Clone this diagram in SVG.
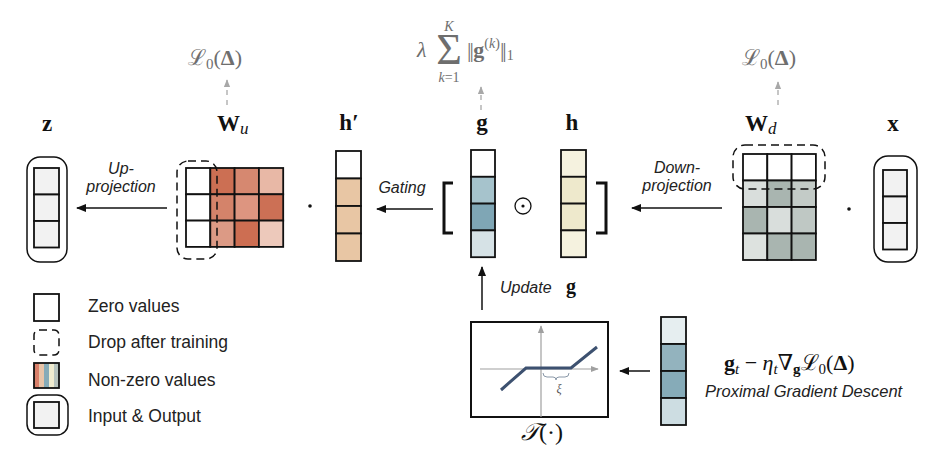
<svg xmlns="http://www.w3.org/2000/svg" width="926" height="457" viewBox="0 0 926 457">
<defs>
<style>
.cell{stroke:#111;stroke-width:1.8}
.io{fill:#f2f2f2;stroke:#111;stroke-width:1.8}
.outer{fill:none;stroke:#111;stroke-width:1.5}
.drop{fill:none;stroke:#111;stroke-width:1.5;stroke-dasharray:8,5}
.conn{stroke:#111;stroke-width:1.5;fill:none}
.gray{stroke:#a8a8a8;stroke-width:1.3;fill:none;stroke-dasharray:5,5}
.lab{font-family:"Liberation Serif","DejaVu Serif",serif;font-weight:bold;font-size:23px;fill:#111}
.it{font-family:"Liberation Sans",Arial,sans-serif;font-style:italic;font-size:16px;fill:#222}
.leg{font-family:"Liberation Sans",Arial,sans-serif;font-size:17.5px;fill:#222}
.fm{font-family:"Liberation Serif","DejaVu Serif",serif;font-size:22px;fill:#6e6e6e}
.fb{font-family:"Liberation Serif","DejaVu Serif",serif;font-size:22px;fill:#111}
</style>
<marker id="ah" viewBox="0 0 10 10" refX="9" refY="5" markerWidth="10" markerHeight="10" markerUnits="userSpaceOnUse" orient="auto">
<path d="M0,1 L10,5 L0,9 z" fill="#111"/>
</marker>
<marker id="ahg" viewBox="0 0 10 10" refX="9" refY="5" markerWidth="8" markerHeight="8" markerUnits="userSpaceOnUse" orient="auto">
<path d="M0,1 L10,5 L0,9 z" fill="#a8a8a8"/>
</marker>
<marker id="aht" viewBox="0 0 10 10" refX="9" refY="5" markerWidth="8" markerHeight="8" markerUnits="userSpaceOnUse" orient="auto">
<path d="M0,1 L10,5 L0,9 z" fill="#a0a0a0"/>
</marker>
</defs>
<rect width="926" height="457" fill="#fff"/>

<!-- top formulas -->
<g id="loss-u">
<text class="fm" x="188" y="65">ℒ<tspan font-size="15" dy="4">0</tspan><tspan dy="-4">(</tspan><tspan font-weight="bold">Δ</tspan>)</text>
</g>
<g id="loss-g">
<text class="fm" x="417" y="57" font-style="italic">λ</text>
<text x="449" y="64" style="font-family:'Liberation Serif',serif;font-size:44px;fill:#6e6e6e" text-anchor="middle">Σ</text>
<text x="449" y="31" style="font-family:'Liberation Serif',serif;font-size:14px;fill:#6e6e6e;font-style:italic" text-anchor="middle">K</text>
<text x="449" y="82" style="font-family:'Liberation Serif',serif;font-size:14px;fill:#6e6e6e" text-anchor="middle"><tspan font-style="italic">k</tspan>=1</text>
<text class="fm" x="467" y="57"><tspan letter-spacing="-2">||</tspan> <tspan font-weight="bold" dx="-4">g</tspan><tspan font-size="14" dy="-9">(<tspan font-style="italic">k</tspan>)</tspan><tspan dy="9" letter-spacing="-2">||</tspan><tspan font-size="14" dy="3" dx="2">1</tspan></text>
</g>
<g id="loss-d">
<text class="fm" x="742" y="65">ℒ<tspan font-size="15" dy="4">0</tspan><tspan dy="-4">(</tspan><tspan font-weight="bold">Δ</tspan>)</text>
</g>

<!-- labels -->
<g id="labels">
<text class="lab" x="47" y="131" text-anchor="middle">z</text>
<text class="lab" x="217" y="131">W<tspan font-style="italic" font-weight="normal" font-size="17" dy="3">u</tspan></text>
<text class="lab" x="349" y="130" text-anchor="middle">h′</text>
<text class="lab" x="482" y="130" text-anchor="middle">g</text>
<text class="lab" x="572" y="130" text-anchor="middle">h</text>
<text class="lab" x="745" y="131">W<tspan font-style="italic" font-weight="normal" font-size="17" dy="3">d</tspan></text>
<text class="lab" x="893" y="131" text-anchor="middle">x</text>
</g>

<!-- z output -->
<g id="z">
<rect class="outer" x="27" y="157" width="40" height="105" rx="13"/>
<rect class="io" x="34" y="168" width="25" height="26.5"/>
<rect class="io" x="34" y="194.5" width="25" height="26.5"/>
<rect class="io" x="34" y="221" width="25" height="26.5"/>
</g>

<!-- W_u -->
<g id="Wu">
<rect class="cell" x="186" y="168" width="24.3" height="26.3" fill="#fff"/>
<rect class="cell" x="210.3" y="168" width="24.3" height="26.3" fill="#cc6f53"/>
<rect class="cell" x="234.6" y="168" width="24.3" height="26.3" fill="#d68870"/>
<rect class="cell" x="258.9" y="168" width="24.3" height="26.3" fill="#e8b8a6"/>
<rect class="cell" x="186" y="194.3" width="24.3" height="26.3" fill="#fff"/>
<rect class="cell" x="210.3" y="194.3" width="24.3" height="26.3" fill="#d4836a"/>
<rect class="cell" x="234.6" y="194.3" width="24.3" height="26.3" fill="#dd9580"/>
<rect class="cell" x="258.9" y="194.3" width="24.3" height="26.3" fill="#cc7055"/>
<rect class="cell" x="186" y="220.6" width="24.3" height="26.3" fill="#fff"/>
<rect class="cell" x="210.3" y="220.6" width="24.3" height="26.3" fill="#dc9a85"/>
<rect class="cell" x="234.6" y="220.6" width="24.3" height="26.3" fill="#cd6e52"/>
<rect class="cell" x="258.9" y="220.6" width="24.3" height="26.3" fill="#edc9bb"/>
<rect class="drop" x="177" y="161" width="40" height="98" rx="11"/>
</g>
<g id="dot-u"><circle cx="310" cy="206" r="1.8" fill="#111"/></g>

<!-- h' -->
<g id="hprime">
<rect class="cell" x="336" y="151" width="25" height="27.5" fill="#fff"/>
<rect class="cell" x="336" y="178.5" width="25" height="27.5" fill="#e8c6a4"/>
<rect class="cell" x="336" y="206" width="25" height="27.5" fill="#e8c6a4"/>
<rect class="cell" x="336" y="233.5" width="25" height="27.5" fill="#e8c6a4"/>
</g>

<!-- brackets -->
<g id="bracket-l"><path d="M453,183 H444 V233 H453" fill="none" stroke="#111" stroke-width="3"/></g>
<g id="g">
<rect class="cell" x="471" y="150" width="24" height="26.8" fill="#fff"/>
<rect class="cell" x="471" y="176.8" width="24" height="26.8" fill="#a6c3cc"/>
<rect class="cell" x="471" y="203.6" width="24" height="26.8" fill="#7fa6b5"/>
<rect class="cell" x="471" y="230.4" width="24" height="26.8" fill="#d6e2e6"/>
</g>
<g id="odot">
<circle cx="523" cy="206" r="8" fill="none" stroke="#111" stroke-width="1.3"/>
<circle cx="523" cy="206" r="1.6" fill="#111"/>
</g>
<g id="h">
<rect class="cell" x="561" y="150" width="25" height="26.8" fill="#f5f2df"/>
<rect class="cell" x="561" y="176.8" width="25" height="26.8" fill="#eee9cc"/>
<rect class="cell" x="561" y="203.6" width="25" height="26.8" fill="#eee9cc"/>
<rect class="cell" x="561" y="230.4" width="25" height="26.8" fill="#f5f2df"/>
</g>
<g id="bracket-r"><path d="M596,183 H606 V233 H596" fill="none" stroke="#111" stroke-width="3"/></g>

<!-- W_d -->
<g id="Wd">
<rect class="cell" x="743" y="154" width="24.3" height="26.5" fill="#fff"/>
<rect class="cell" x="767.3" y="154" width="24.3" height="26.5" fill="#fff"/>
<rect class="cell" x="791.6" y="154" width="24.3" height="26.5" fill="#fff"/>
<rect class="cell" x="743" y="180.5" width="24.3" height="26.5" fill="#d9dedc"/>
<rect class="cell" x="767.3" y="180.5" width="24.3" height="26.5" fill="#a9b5b0"/>
<rect class="cell" x="791.6" y="180.5" width="24.3" height="26.5" fill="#c3cbc7"/>
<rect class="cell" x="743" y="207" width="24.3" height="26.5" fill="#a9b5b0"/>
<rect class="cell" x="767.3" y="207" width="24.3" height="26.5" fill="#d9dedc"/>
<rect class="cell" x="791.6" y="207" width="24.3" height="26.5" fill="#bfc8c4"/>
<rect class="cell" x="743" y="233.5" width="24.3" height="26.5" fill="#dde2df"/>
<rect class="cell" x="767.3" y="233.5" width="24.3" height="26.5" fill="#a9b5b0"/>
<rect class="cell" x="791.6" y="233.5" width="24.3" height="26.5" fill="#a9b5b0"/>
<rect class="drop" x="733" y="145" width="92" height="44" rx="12"/>
</g>
<g id="dot-d"><circle cx="849" cy="209" r="1.8" fill="#111"/></g>

<!-- x input -->
<g id="x">
<rect class="outer" x="874" y="156" width="43" height="106" rx="14"/>
<rect class="io" x="883" y="170" width="24" height="26.5"/>
<rect class="io" x="883" y="196.5" width="24" height="26.5"/>
<rect class="io" x="883" y="223" width="24" height="26.5"/>
</g>

<!-- T box -->
<g id="T">
<rect x="471" y="322" width="137" height="95" fill="#fff" stroke="#111" stroke-width="2"/>
<line x1="541" y1="417" x2="541" y2="326" stroke="#a0a0a0" stroke-width="1.2" marker-end="url(#aht)"/>
<line x1="480" y1="369" x2="598" y2="369" stroke="#a0a0a0" stroke-width="1.2" marker-end="url(#aht)"/>
<polyline points="501,390 526,368 571,368 597,347" fill="none" stroke="#3d5170" stroke-width="3"/>
<path d="M543,373 q0,4 4,4 h6 q3,0 3,3 q0,-3 3,-3 h6 q4,0 4,-4" fill="none" stroke="#8a98a8" stroke-width="1"/>
<text x="559" y="393" font-family="Liberation Serif,DejaVu Serif,serif" font-style="italic" font-size="12" fill="#555" text-anchor="middle">ξ</text>
<text x="542" y="440" style="font-family:'Liberation Serif','DejaVu Serif',serif;font-size:24px;fill:#111" text-anchor="middle"><tspan font-style="italic">𝒯</tspan>(·)</text>
</g>

<!-- proximal vector -->
<g id="gt">
<rect class="cell" x="661" y="317" width="25" height="27" fill="#e6eef0"/>
<rect class="cell" x="661" y="344" width="25" height="27" fill="#93b3be"/>
<rect class="cell" x="661" y="371" width="25" height="27" fill="#86abb8"/>
<rect class="cell" x="661" y="398" width="25" height="27" fill="#cddde2"/>
</g>
<g id="pgd">
<text class="fb" x="724" y="370"><tspan font-weight="bold">g</tspan><tspan font-style="italic" font-size="15" dy="4">t</tspan><tspan dy="-4"> − </tspan><tspan font-style="italic">η</tspan><tspan font-style="italic" font-size="15" dy="4">t</tspan><tspan dy="-4">∇</tspan><tspan font-weight="bold" font-size="15" dy="4">g</tspan><tspan dy="-4">ℒ</tspan><tspan font-size="15" dy="4">0</tspan><tspan dy="-4">(</tspan><tspan font-weight="bold">Δ</tspan>)</text>
<text x="705" y="397" style="font-family:'Liberation Sans',Arial,sans-serif;font-style:italic;font-size:16.5px;fill:#222">Proximal Gradient Descent</text>
</g>

<!-- connectors -->
<g id="connectors">
<line class="conn" x1="167" y1="208" x2="77" y2="208" marker-end="url(#ah)"/>
<line class="conn" x1="433" y1="209" x2="377" y2="209" marker-end="url(#ah)"/>
<line class="conn" x1="722" y1="208" x2="632" y2="208" marker-end="url(#ah)"/>
<line class="conn" x1="482" y1="310" x2="482" y2="267" marker-end="url(#ah)"/>
<line class="conn" x1="650" y1="371" x2="620" y2="371" marker-end="url(#ah)"/>
<line class="gray" x1="227" y1="105" x2="227" y2="80" marker-end="url(#ahg)"/>
<line class="gray" x1="481" y1="110" x2="481" y2="87" marker-end="url(#ahg)"/>
<line class="gray" x1="778" y1="105" x2="778" y2="82" marker-end="url(#ahg)"/>
</g>

<!-- connector labels -->
<g id="conn-labels">
<text class="it" x="121" y="174" text-anchor="middle">Up-</text>
<text class="it" x="121" y="192" text-anchor="middle">projection</text>
<text class="it" x="402" y="193" text-anchor="middle">Gating</text>
<text class="it" x="677" y="173" text-anchor="middle">Down-</text>
<text class="it" x="677" y="191" text-anchor="middle">projection</text>
<text class="it" x="500" y="293">Update</text>
<text x="566" y="293" style="font-family:'Liberation Serif',serif;font-weight:bold;font-size:20px;fill:#111">g</text>
</g>

<!-- legend -->
<g id="legend-zero">
<rect x="34" y="294" width="25" height="27" fill="#fff" stroke="#111" stroke-width="1.8"/>
<text class="leg" x="88" y="312">Zero values</text>
</g>
<g id="legend-drop">
<rect class="drop" x="34" y="330" width="25" height="25" rx="5"/>
<text class="leg" x="88" y="348">Drop after training</text>
</g>
<g id="legend-nonzero">
<rect x="34" y="363" width="5" height="25" fill="#d9806a"/>
<rect x="39" y="363" width="5" height="25" fill="#e8c4a8"/>
<rect x="44" y="363" width="5" height="25" fill="#86abb8"/>
<rect x="49" y="363" width="5" height="25" fill="#f0ecd0"/>
<rect x="54" y="363" width="5" height="25" fill="#b8c4bf"/>
<rect x="34" y="363" width="25" height="25" fill="none" stroke="#111" stroke-width="1.8"/>
<text class="leg" x="88" y="386">Non-zero values</text>
</g>
<g id="legend-io">
<rect class="outer" x="27" y="395" width="41" height="40" rx="11"/>
<rect class="io" x="34" y="402" width="25" height="26"/>
<text class="leg" x="88" y="422">Input &amp; Output</text>
</g>
</svg>
